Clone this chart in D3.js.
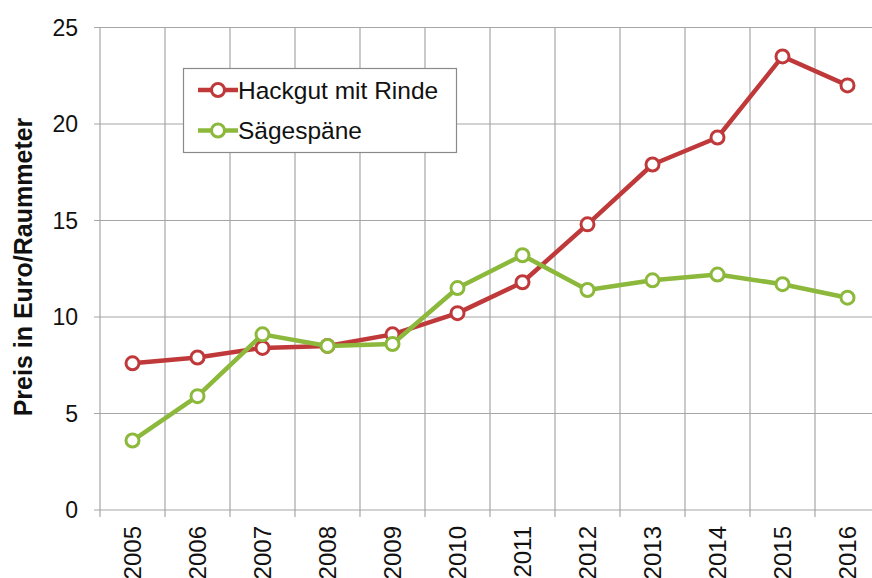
<!DOCTYPE html>
<html>
<head>
<meta charset="utf-8">
<script src="https://cdn.jsdelivr.net/npm/d3@7"></script>
<style>
  body { margin: 0; background: #fff; }
  text { font-family: "Liberation Sans", Arial, sans-serif; }
</style>
</head>
<body>
<script>
let years = ['2005', '2006', '2007', '2008', '2009', '2010', '2011', '2012', '2013', '2014', '2015', '2016']
let hackgut = [7.6, 7.9, 8.4, 8.5, 9.1, 10.2, 11.8, 14.8, 17.9, 19.3, 23.5, 22.0]
let saegespaene = [3.6, 5.9, 9.1, 8.5, 8.6, 11.5, 13.2, 11.4, 11.9, 12.2, 11.7, 11.0]
let yTicks = [0, 5, 10, 15, 20, 25]
let seriesNames = ['Hackgut mit Rinde', 'Sägespäne']
let colors = ['#c0393a', '#8cb83c']

let margin = { top: 27.5, right: -8, bottom: 68, left: 100 }
let W = 872, H = 578
let width = W - margin.left - margin.right
let height = H - margin.top - margin.bottom
let grid = '#a6a6a6'

let svg = d3.select('body').append('svg')
  .attr('width', W)
  .attr('height', H)

let g = svg.append('g').attr('transform', `translate(${margin.left},${margin.top})`)

let x = d3.scaleBand().domain(years).range([0, width])
let y = d3.scaleLinear().domain([0, 25]).range([height, 0])

// horizontal grid
g.selectAll('.hgrid').data(yTicks).enter().append('line')
  .attr('x1', -6).attr('x2', width)
  .attr('y1', d => y(d)).attr('y2', d => y(d))
  .attr('stroke', grid).attr('stroke-width', 1.2)

// vertical grid at band edges
let edges = years.map(d => x(d)).concat([width])
g.selectAll('.vgrid').data(edges).enter().append('line')
  .attr('x1', d => d).attr('x2', d => d)
  .attr('y1', 0).attr('y2', height + 7)
  .attr('stroke', grid).attr('stroke-width', 1.2)

// y tick labels
g.selectAll('.ylab').data(yTicks).enter().append('text')
  .attr('x', -22).attr('y', d => y(d))
  .attr('dy', '0.35em')
  .attr('text-anchor', 'end')
  .attr('font-size', 23)
  .attr('fill', '#111')
  .text(d => d)

// x tick labels, rotated
g.selectAll('.xlab').data(years).enter().append('text')
  .attr('transform', d => `translate(${x(d) + x.bandwidth() / 2},${height + 16}) rotate(-90)`)
  .attr('dy', '0.35em')
  .attr('text-anchor', 'end')
  .attr('font-size', 24)
  .attr('fill', '#111')
  .text(d => d)

// y axis title
svg.append('text')
  .attr('transform', 'translate(23,267) rotate(-90)')
  .attr('text-anchor', 'middle')
  .attr('dy', '0.35em')
  .attr('font-size', 25)
  .attr('font-weight', 'bold')
  .attr('fill', '#111')
  .text('Preis in Euro/Raummeter')

let line = d3.line()
  .x((d, i) => x(years[i]) + x.bandwidth() / 2)
  .y(d => y(d))

let drawSeries = (data, color) => {
  g.append('path')
    .attr('d', line(data))
    .attr('fill', 'none')
    .attr('stroke', color)
    .attr('stroke-width', 4.5)
    .attr('stroke-linejoin', 'round')
  g.selectAll(null).data(data).enter().append('circle')
    .attr('cx', (d, i) => x(years[i]) + x.bandwidth() / 2)
    .attr('cy', d => y(d))
    .attr('r', 6.5)
    .attr('fill', '#fff')
    .attr('stroke', color)
    .attr('stroke-width', 3)
}

drawSeries(hackgut, colors[0])
drawSeries(saegespaene, colors[1])

// legend
let legend = svg.append('g')
legend.append('rect')
  .attr('x', 183.5).attr('y', 68.5)
  .attr('width', 273).attr('height', 84)
  .attr('fill', '#fff')
  .attr('stroke', '#8a8a8a')
  .attr('stroke-width', 1.2)

seriesNames.forEach((name, i) => {
  let ly = 90 + i * 40.5
  legend.append('line')
    .attr('x1', 198).attr('x2', 238)
    .attr('y1', ly).attr('y2', ly)
    .attr('stroke', colors[i]).attr('stroke-width', 4.5)
  legend.append('circle')
    .attr('cx', 218).attr('cy', ly).attr('r', 6.5)
    .attr('fill', '#fff')
    .attr('stroke', colors[i]).attr('stroke-width', 3)
  legend.append('text')
    .attr('x', 238).attr('y', ly)
    .attr('dy', '0.35em')
    .attr('font-size', 24.5)
    .attr('fill', '#111')
    .text(name)
})
</script>
</body>
</html>
